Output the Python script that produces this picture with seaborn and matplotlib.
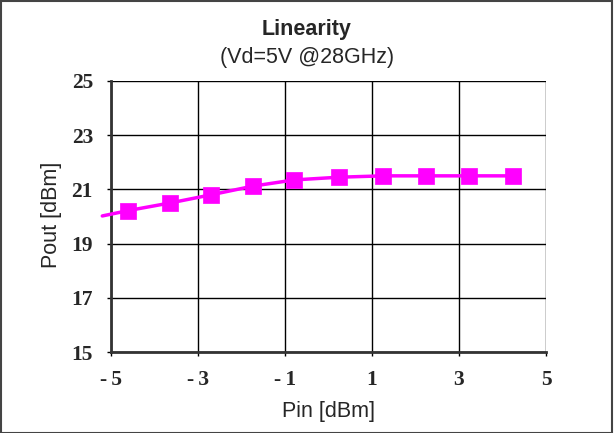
import matplotlib
matplotlib.use("Agg")
import matplotlib.pyplot as plt
import seaborn as sns
import pandas as pd

pin = [-4.6, -3.64, -2.7, -1.74, -0.79, 0.24, 1.25, 2.24, 3.23, 4.24]
pout = [20.22, 20.5, 20.8, 21.12, 21.35, 21.45, 21.5, 21.5, 21.5, 21.5]
line_pin = [-5.2] + pin
line_pout = [20.02] + pout
xticks = [-5, -3, -1, 1, 3, 5]
xtick_labels = ["-\u20095", "-\u20093", "-\u20091", "1", "3", "5"]
yticks = [15, 17, 19, 21, 23, 25]

sns.set_style("white")
plt.rcParams['font.family'] = ['Liberation Sans', 'DejaVu Sans']

fig = plt.figure(figsize=(6.14, 4.33), dpi=100)
ax = fig.add_axes([111/614, 1 - 352/433, (546-111)/614, (352-81)/433])

df_line = pd.DataFrame({"Pin": line_pin, "Pout": line_pout})
df_pts = pd.DataFrame({"Pin": pin, "Pout": pout})
sns.lineplot(data=df_line, x="Pin", y="Pout", ax=ax, color="#ff00ff", lw=2.5,
             sort=False, clip_on=False, zorder=3)
sns.scatterplot(data=df_pts, x="Pin", y="Pout", ax=ax, color="#ff00ff", marker="s",
                s=130, edgecolor="#ff00ff", linewidth=0.5, zorder=4, clip_on=False)

tick_font = dict(fontfamily=["Liberation Serif", "DejaVu Serif"], fontweight="bold", fontsize=15.5)
ax.set_xlim(-5, 5)
ax.set_ylim(15, 25)
ax.set_xticks(xticks)
ax.set_yticks(yticks)
ax.set_xticklabels(xtick_labels, **tick_font)
ax.set_yticklabels([str(v) for v in yticks], **tick_font)
ax.grid(True, color="black", lw=1)
for s in ["top", "right"]:
    ax.spines[s].set_visible(False)
for s in ["left", "bottom"]:
    ax.spines[s].set_color("#333333")
    ax.spines[s].set_linewidth(2)
ax.tick_params(axis="x", direction="out", length=3, width=1, color="black",
               bottom=True, pad=10)
ax.tick_params(axis="y", direction="out", length=3, width=1, color="black",
               left=True, pad=10)

ax.set_xlabel("Pin [dBm]", fontsize=15.5)
ax.set_ylabel("Pout [dBm]", fontsize=15.5)
ax.xaxis.set_label_coords(0.5, -0.181)
ax.yaxis.set_label_coords(-0.113, 0.505)

fig.text(307/614, 1 - 29/433, "Linearity", ha="center", va="center", fontsize=15.5, fontweight="bold")
fig.text(307/614, 1 - 58/433, "(Vd=5V @28GHz)", ha="center", va="center", fontsize=15.5)

fig.patches.append(plt.Rectangle((0.001, 0.001), 0.996, 0.997, transform=fig.transFigure,
                                 fill=False, edgecolor="#444444", lw=1.5))
fig.savefig("out.png", dpi=100)
